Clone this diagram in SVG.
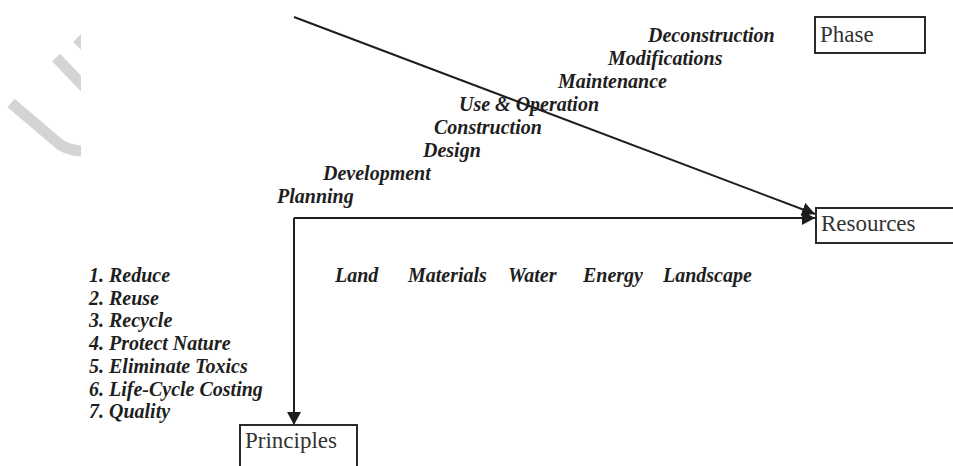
<svg xmlns="http://www.w3.org/2000/svg" width="953" height="466" viewBox="0 0 953 466">
  <style>
    .box { fill: #ffffff; stroke: #2a2a2a; stroke-width: 2; }
    .boxlabel { font-family: "Liberation Serif", "Times New Roman", serif; font-size: 23px; fill: #333333; }
    .item { font-family: "Liberation Serif", "Times New Roman", serif; font-size: 20px; font-weight: bold; font-style: italic; fill: #1e1e1e; }
    .edge { fill: none; stroke: #1e1e1e; stroke-width: 2; }
    .mark { fill: none; stroke: #d4d4d4; stroke-width: 11; stroke-linecap: butt; }
  </style>
  <defs>
    <marker id="arrow" markerUnits="userSpaceOnUse" markerWidth="14" markerHeight="14" refX="13" refY="7" orient="auto">
      <path d="M0,0 L13,7 L0,14 Z" fill="#1e1e1e"/>
    </marker>
    <clipPath id="markClip">
      <rect x="0" y="0" width="81" height="200"/>
    </clipPath>
  </defs>

  <rect x="0" y="0" width="953" height="466" fill="#ffffff"/>

  <!-- pale stroke marks, upper left -->
  <g id="mark" clip-path="url(#markClip)">
    <path class="mark" d="M11,103 L57,142 Q66,151 85,151"/>
    <path class="mark" d="M56,57.5 L95,98"/>
    <path class="mark" d="M77,38 L95,56"/>
  </g>

  <!-- connectors -->
  <g id="connectors">
    <line class="edge" x1="294" y1="17" x2="815" y2="214" marker-end="url(#arrow)"/>
    <line class="edge" x1="294" y1="218" x2="815" y2="218" marker-end="url(#arrow)"/>
    <line class="edge" x1="294" y1="218" x2="294" y2="425" marker-end="url(#arrow)"/>
  </g>

  <g id="phase">
    <rect class="box" x="815" y="17" width="110" height="36"/>
    <text class="boxlabel" x="820" y="42">Phase</text>
  </g>

  <g id="resources">
    <rect class="box" x="816" y="208" width="150" height="35"/>
    <text class="boxlabel" x="821" y="231">Resources</text>
  </g>

  <g id="principles">
    <rect class="box" x="240" y="425" width="117" height="60"/>
    <text class="boxlabel" x="245" y="448">Principles</text>
  </g>

  <!-- life-cycle phases -->
  <g id="phase-items">
    <text class="item" x="648" y="42">Deconstruction</text>
    <text class="item" x="608" y="65">Modifications</text>
    <text class="item" x="558" y="88">Maintenance</text>
    <text class="item" x="459" y="111">Use &amp; Operation</text>
    <text class="item" x="434" y="134">Construction</text>
    <text class="item" x="423" y="157">Design</text>
    <text class="item" x="323" y="180">Development</text>
    <text class="item" x="277" y="203">Planning</text>
  </g>

  <!-- resource categories -->
  <g id="resource-items">
    <text class="item" x="335" y="282">Land</text>
    <text class="item" x="408" y="282">Materials</text>
    <text class="item" x="508" y="282">Water</text>
    <text class="item" x="583" y="282">Energy</text>
    <text class="item" x="663" y="282">Landscape</text>
  </g>

  <!-- principles list -->
  <g id="principle-items">
    <text class="item" x="89" y="282">1. Reduce</text>
    <text class="item" x="89" y="305">2. Reuse</text>
    <text class="item" x="89" y="327">3. Recycle</text>
    <text class="item" x="89" y="350">4. Protect Nature</text>
    <text class="item" x="89" y="373">5. Eliminate Toxics</text>
    <text class="item" x="89" y="396">6. Life-Cycle Costing</text>
    <text class="item" x="89" y="418">7. Quality</text>
  </g>
</svg>
